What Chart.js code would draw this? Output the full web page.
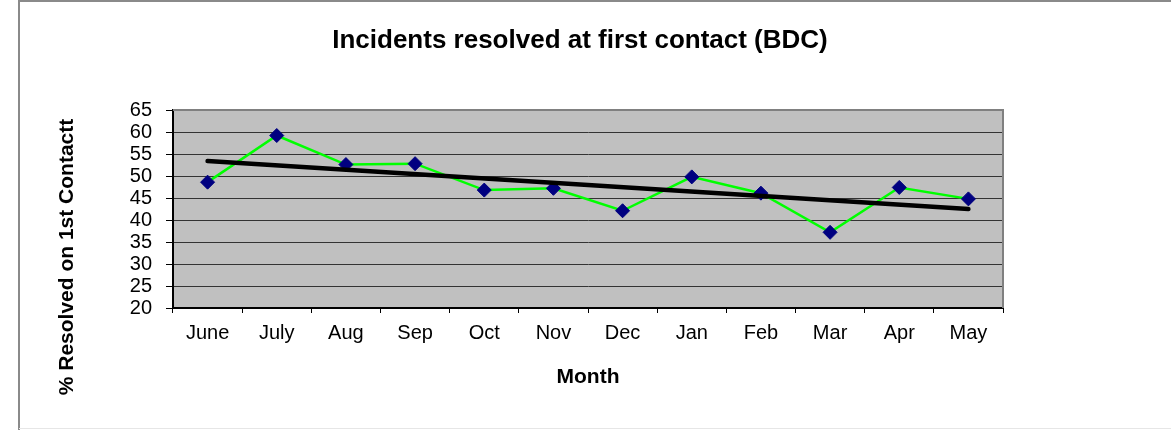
<!DOCTYPE html>
<html>
<head>
<meta charset="utf-8">
<script src="https://cdn.jsdelivr.net/npm/chart.js@4.4.1/dist/chart.umd.min.js"></script>
<style>
  html, body { margin: 0; padding: 0; background: #fff; }
  #wrap { position: relative; width: 1171px; height: 430px; }
</style>
</head>
<body>
<div id="wrap"><canvas id="fcrChart"></canvas></div>
<script>
// values
const months = ['June', 'July', 'Aug', 'Sep', 'Oct', 'Nov', 'Dec', 'Jan', 'Feb', 'Mar', 'Apr', 'May'];
const resolvedPct = [48.6, 59.2, 52.6, 52.8, 46.8, 47.2, 42.1, 49.8, 46.1, 37.2, 47.4, 44.8];
// trendline ends (first and last month), gap in between is spanned
const trendPct = [53.4, null, null, null, null, null, null, null, null, null, null, 42.5];
const yRange = [20, 65];
const yStep = 5;

const fontFamily = "'Liberation Sans', Arial, sans-serif";
Chart.defaults.font.family = fontFamily;
Chart.defaults.color = '#000';

const frame = {
    id: 'frame',
    beforeDraw(chart) {
        const { ctx, chartArea: a, width, height } = chart;
        ctx.save();
        // outer chart border
        ctx.strokeStyle = '#8a8a8a';
        ctx.lineWidth = 2;
        ctx.beginPath();
        ctx.moveTo(19, height);
        ctx.lineTo(19, 1);
        ctx.lineTo(width, 1);
        ctx.stroke();
        ctx.strokeStyle = '#e6e6e6';
        ctx.lineWidth = 1;
        ctx.beginPath();
        ctx.moveTo(19, height - 1.5);
        ctx.lineTo(width, height - 1.5);
        ctx.stroke();
        // plot background
        ctx.fillStyle = '#c0c0c0';
        ctx.fillRect(a.left, a.top, a.right - a.left, a.bottom - a.top);
        ctx.restore();
    },
    beforeDatasetsDraw(chart) {
        const { ctx, chartArea: a } = chart;
        ctx.save();
        ctx.strokeStyle = '#808080';
        ctx.lineWidth = 2;
        ctx.beginPath();
        ctx.moveTo(a.left, a.top);
        ctx.lineTo(a.right, a.top);
        ctx.lineTo(a.right, a.bottom);
        ctx.stroke();
        ctx.restore();
    },
    afterDraw(chart) {
        const { ctx } = chart;
        ctx.save();
        ctx.fillStyle = '#000';
        ctx.textAlign = 'center';
        ctx.textBaseline = 'middle';
        // chart title
        ctx.font = 'bold 26px ' + fontFamily;
        ctx.fillText('Incidents resolved at first contact (BDC)', 580, 41);
        // y axis title
        ctx.translate(67.5, 257);
        ctx.rotate(-Math.PI / 2);
        ctx.font = 'bold 21px ' + fontFamily;
        ctx.fillText('% Resolved on 1st Contactt', 0, 0);
        ctx.restore();
    }
};

const ctx = document.getElementById('fcrChart').getContext('2d');

new Chart(ctx, {
    type: 'line',
    data: {
        labels: months,
        datasets: [
            {
                label: 'Linear trend',
                data: trendPct,
                spanGaps: true,
                borderColor: '#000',
                borderWidth: 4.5,
                borderCapStyle: 'round',
                pointRadius: 0,
                fill: false
            },
            {
                label: '% Resolved',
                data: resolvedPct,
                borderColor: '#00ff00',
                borderWidth: 2.5,
                pointStyle: 'rectRot',
                pointRadius: 7,
                pointBackgroundColor: '#000080',
                pointBorderColor: '#000080',
                pointBorderWidth: 1,
                tension: 0,
                fill: false
            }
        ]
    },
    options: {
        responsive: true,
        maintainAspectRatio: false,
        animation: false,
        layout: {
            padding: { left: 0, right: 168, top: 110, bottom: 36 }
        },
        plugins: {
            legend: { display: false },
            tooltip: { enabled: false },
            title: { display: false }
        },
        scales: {
            x: {
                offset: true,
                grid: {
                    offset: true,
                    drawOnChartArea: false,
                    tickLength: 5,
                    color: '#000'
                },
                border: { color: '#000', width: 2 },
                ticks: {
                    color: '#000',
                    font: { size: 20 },
                    padding: 8,
                    maxRotation: 0,
                    autoSkip: false
                },
                title: {
                    display: true,
                    text: 'Month',
                    color: '#000',
                    font: { size: 21, weight: 'bold' },
                    padding: { top: 4, bottom: 4 }
                },
                afterFit(scale) { scale.height = 86; }
            },
            y: {
                min: yRange[0],
                max: yRange[1],
                ticks: {
                    stepSize: yStep,
                    autoSkip: false,
                    color: '#000',
                    font: { size: 20 },
                    padding: 14
                },
                grid: {
                    color: '#333',
                    lineWidth: 1,
                    tickLength: 7,
                    tickColor: '#000'
                },
                border: { color: '#000', width: 2 },
                afterFit(scale) { scale.width = 173; }
            }
        }
    },
    plugins: [frame]
});
</script>
</body>
</html>
